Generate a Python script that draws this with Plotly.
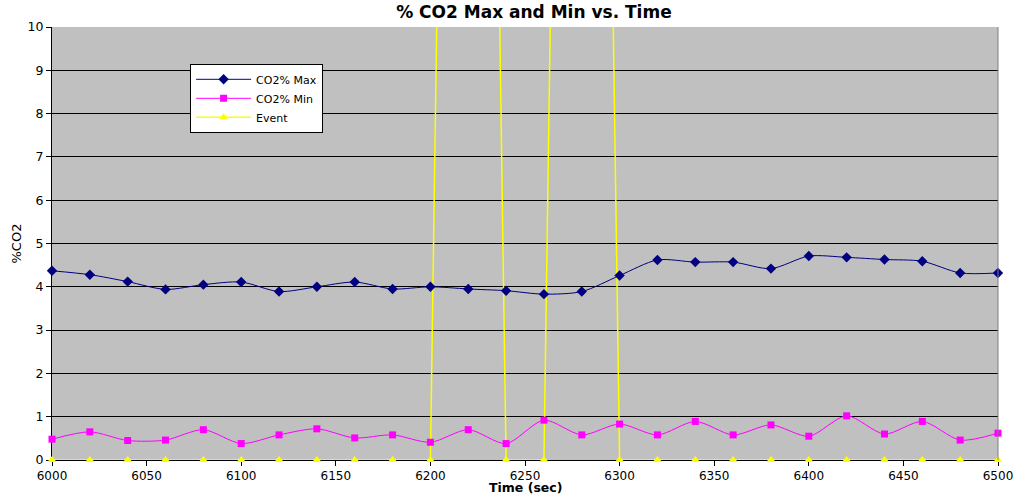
import plotly.graph_objects as go

time_sec = [6000, 6020, 6040, 6060, 6080, 6100, 6120, 6140, 6160, 6180, 6200, 6220, 6240,
            6260, 6280, 6300, 6320, 6340, 6360, 6380, 6400, 6420, 6440, 6460, 6480, 6500]
co2_max = [4.37, 4.28, 4.12, 3.94, 4.05, 4.11, 3.89, 4.00, 4.11, 3.95, 4.00, 3.95, 3.91,
           3.83, 3.89, 4.26, 4.62, 4.57, 4.57, 4.42, 4.71, 4.68, 4.63, 4.59, 4.32, 4.32]
co2_min = [0.48, 0.65, 0.45, 0.46, 0.70, 0.38, 0.58, 0.72, 0.51, 0.58, 0.41, 0.70, 0.38,
           0.92, 0.58, 0.83, 0.58, 0.89, 0.58, 0.81, 0.55, 1.02, 0.60, 0.89, 0.46, 0.62]
event = [0, 0, 0, 0, 0, 0, 0, 0, 0, 0, 0, 60, 0,
         0, 60, 0, 0, 0, 0, 0, 0, 0, 0, 0, 0, 0]

FONT = "DejaVu Sans, Liberation Sans, Arial, sans-serif"

fig = go.Figure()
fig.add_trace(go.Scatter(
    x=time_sec, y=event, name="Event", mode="lines+markers",
    line=dict(color="#FFFF00", width=1.5),
    marker=dict(symbol="triangle-up", size=8, color="#FFFF00"),
    cliponaxis=False, showlegend=False))
fig.add_trace(go.Scatter(
    x=time_sec, y=co2_max, name="CO2% Max", mode="lines+markers",
    line=dict(color="#000080", width=1, shape="spline", smoothing=0.8),
    marker=dict(symbol="diamond", size=8, color="#000080"),
    cliponaxis=False))
fig.add_trace(go.Scatter(
    x=time_sec, y=co2_min, name="CO2% Min", mode="lines+markers",
    line=dict(color="#FF00FF", width=1, shape="spline", smoothing=0.8),
    marker=dict(symbol="square", size=7, color="#FF00FF"),
    cliponaxis=False))
# legend-only entry for Event so it is listed last
fig.add_trace(go.Scatter(
    x=[None], y=[None], name="Event", mode="lines+markers",
    line=dict(color="#FFFF00", width=1.5),
    marker=dict(symbol="triangle-up", size=8, color="#FFFF00")))

fig.update_layout(
    width=1017, height=494,
    margin=dict(l=52, r=19, t=27, b=34, autoexpand=False),
    paper_bgcolor="white", plot_bgcolor="#C0C0C0",
    font=dict(family=FONT, size=12, color="black"),
    title=dict(text="<b>% CO2 Max and Min vs. Time</b>", font=dict(size=17),
               x=0.525, xref="container", xanchor="center",
               y=1 - 12 / 494, yref="container", yanchor="middle"),
    legend=dict(x=0.146, y=0.915, xanchor="left", yanchor="top",
                bgcolor="white", bordercolor="black", borderwidth=1,
                font=dict(size=11), tracegroupgap=0, itemwidth=55),
    showlegend=True,
    xaxis=dict(range=[6000, 6500], tickmode="linear", tick0=6000, dtick=50,
               showgrid=False, zeroline=False, showline=True, linecolor="black",
               ticks="outside", ticklen=5, tickcolor="black", layer="below traces",
               automargin=False, tickfont=dict(size=12)),
    yaxis=dict(range=[0, 10], tickmode="linear", tick0=0, dtick=1,
               showgrid=True, gridcolor="black", gridwidth=1, zeroline=False,
               showline=True, linecolor="black", automargin=False,
               ticks="outside", ticklen=5, tickcolor="black", layer="below traces",
               tickfont=dict(size=12.5),
               title=dict(text="%CO2", font=dict(size=13), standoff=3)),
)
fig.add_annotation(text="<b>Time (sec)</b>", xref="paper", yref="paper", x=0.5, y=0,
                   xanchor="center", yanchor="top", yshift=-18, showarrow=False,
                   font=dict(size=12.5))
fig.add_shape(type="line", xref="x domain", yref="y domain", x0=1, x1=1, y0=0, y1=1,
              line=dict(color="#808080", width=1))

fig.write_html("out.html", config={"displayModeBar": False},
               post_script="document.body.style.margin='0';")
